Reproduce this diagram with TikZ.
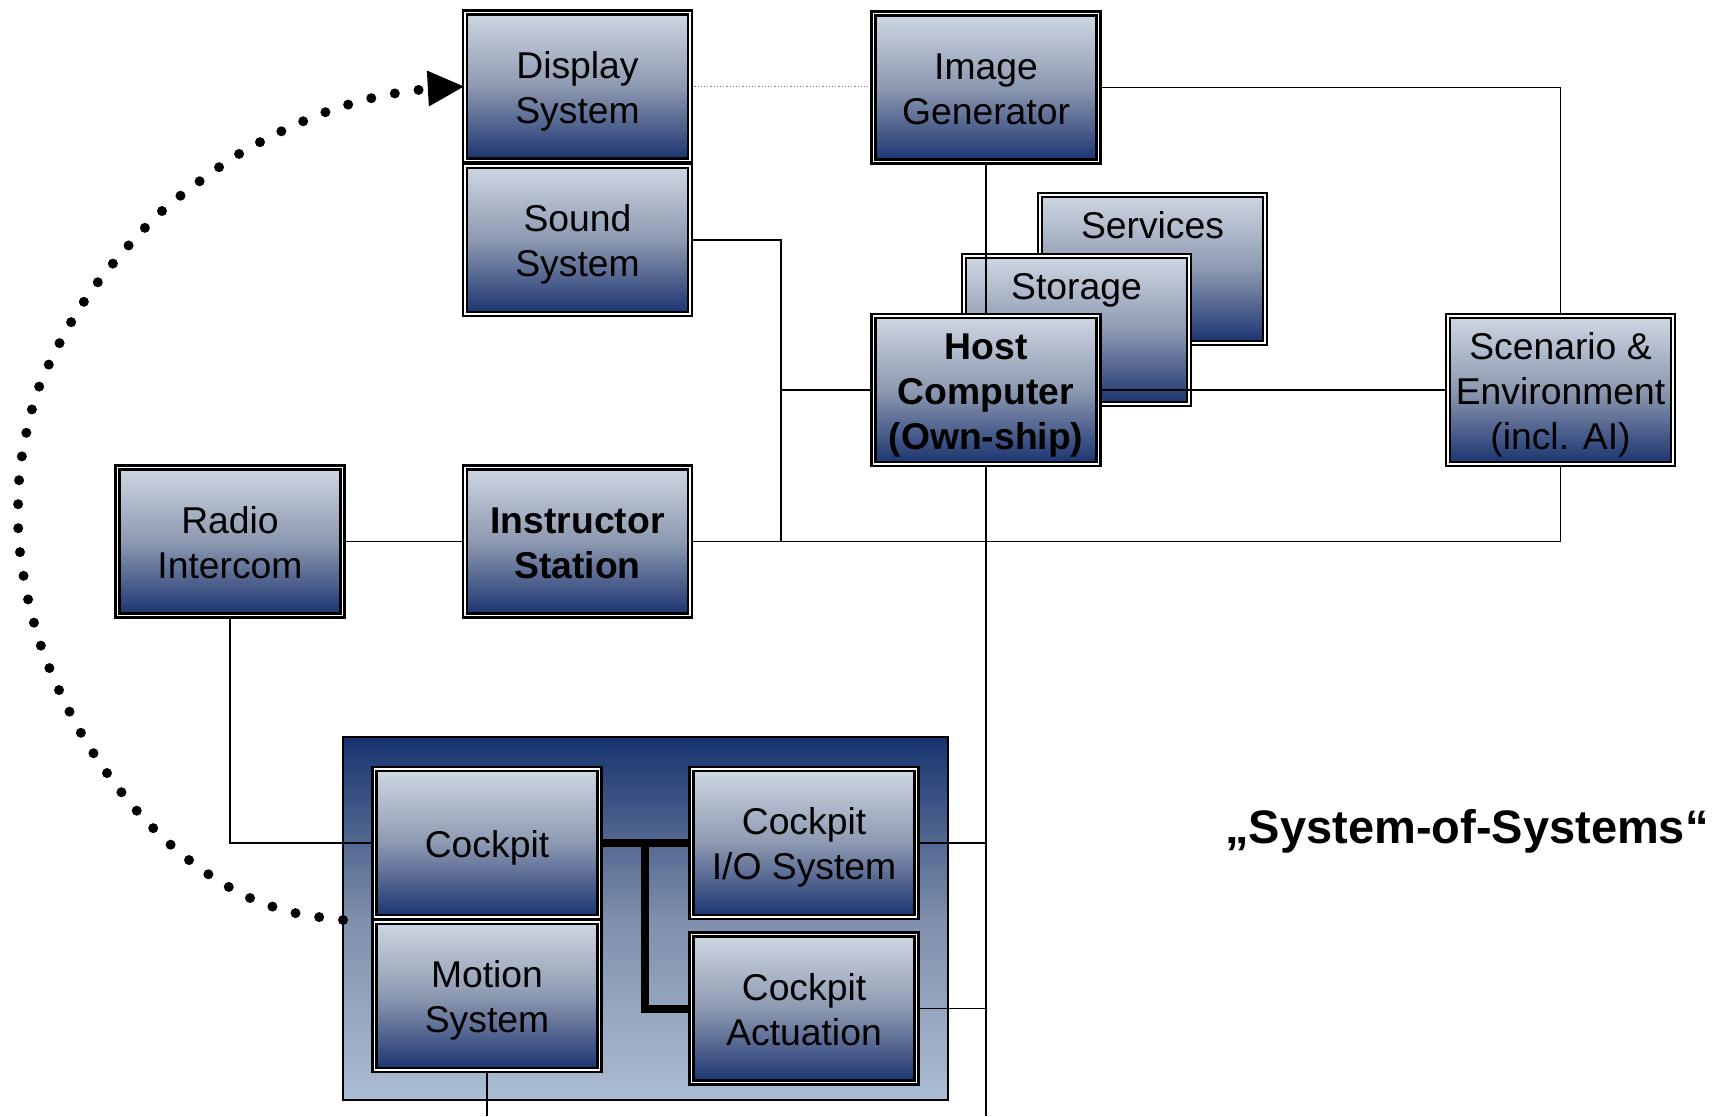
\documentclass[tikz,border=0pt]{standalone}
\usepackage{fontspec}
\setmainfont{Liberation Sans}
\usetikzlibrary{arrows.meta}

\definecolor{boxtop}{HTML}{CFD7E2}
\definecolor{boxmid}{HTML}{8D99B1}
\definecolor{boxbot}{HTML}{1A3370}
\definecolor{frametop}{HTML}{17336F}
\definecolor{framemid}{HTML}{7F8FAC}
\definecolor{framebot}{HTML}{ABBDD2}

\pgfdeclarelayer{back}
\pgfdeclarelayer{wires}
\pgfsetlayers{back,wires,main}

\tikzset{
  sysbox/.style={draw=black, line width=2.4pt, double=white, double distance=1.6pt,
    top color=boxtop, bottom color=boxbot, middle color=boxmid,
    minimum width=225pt, minimum height=148pt, inner sep=0pt},
  plain/.style={inner sep=0pt, align=center, font=\fontsize{37.3}{45}\selectfont},
  strong/.style={plain, font=\fontsize{37.3}{45}\selectfont\bfseries},
  frame/.style={draw=black, line width=1.8pt, top color=frametop, bottom color=framebot,
    middle color=framemid, minimum width=605pt, minimum height=363pt, inner sep=0pt},
  wire/.style={draw=black, line width=1.8pt},
  faint/.style={draw=gray, line width=1.2pt, dotted},
  bus/.style={draw=black, line width=8pt},
  loop/.style={draw=black, line width=10pt, line cap=round, dash pattern=on 0pt off 24pt},
}

% box with its caption; struts keep every caption on the same baseline grid
\newcommand\subsys[4]{%
  \node[sysbox] (#1) at (#2) {};
  \node[#3] (#1text) at ([yshift=-5pt]#1.center) {\strut#4\strut};}

\begin{document}
\begin{tikzpicture}[x=1pt, y=-1pt]
\useasboundingbox (0,0) rectangle (1715,1116);

\begin{pgfonlayer}{back}
  % simulator housing with its sub-systems
  \node[frame] (housing) at (645.5,918.5) {};
  % back-end computers stacked behind the host
  \node[sysbox] (serv) at (1152.5,269) {};
  \node[plain] (servtext) at (1152.5,225) {Services};
  \node[sysbox] (stor) at (1076.5,330) {};
  \node[plain] (stortext) at (1076.5,290) {Storage};
\end{pgfonlayer}

% sub-system boxes
\subsys{disp}{577.5,86.5}{plain}{Display\\System}
\subsys{snd}{577.5,240}{plain}{Sound\\System}
\subsys{img}{986,87.5}{plain}{Image\\Generator}
\subsys{host}{986,390}{strong}{Host\\Computer\\(Own-ship)}
\subsys{scen}{1560.5,390}{plain}{Scenario \&\\Environment\\(incl. AI)}
\subsys{radio}{230,541.5}{plain}{Radio\\Intercom}
\subsys{instr}{577.5,541.5}{strong}{Instructor\\Station}
\subsys{cockpit}{487,843}{plain}{Cockpit}
\subsys{motion}{487,996}{plain}{Motion\\System}
\subsys{cio}{804,843}{plain}{Cockpit\\I/O System}
\subsys{cact}{804,1008.5}{plain}{Cockpit\\Actuation}

% junction points of the network
\coordinate (sj) at (781,541.5);
\coordinate (hostdrop) at (986,1116);
\coordinate (tj) at (645,843);

\begin{pgfonlayer}{wires}
  \draw[faint] (disp.east) -- (disp.east -| img.west);
  \draw[wire] (img.east) -| (scen.north);
  \draw[wire] (img.south) -- (host.north);
  \draw[wire] (host.south) -- (hostdrop);
  \draw[wire] (snd.east) -| (sj);
  \draw[wire] (host.west) -- (host.west -| sj);
  \draw[wire] (instr.east) -| (scen.south);
  \draw[wire] (host.east) -- (scen.west);
  \draw[wire] (radio.east) -- (instr.west);
  \draw[wire] (radio.south) |- (cockpit.west);
  \draw[wire] (cio.east) -- (cio.east -| hostdrop);
  \draw[wire] (cact.east) -- (cact.east -| hostdrop);
  \draw[wire] (motion.south) -- (motion.south |- hostdrop);
  \draw[bus] (cockpit.east) -- (cio.west);
  \draw[bus] (tj) |- (cact.west);
\end{pgfonlayer}

% feedback loop from the cockpit back to the display
\coordinate (loopstart) at (343,920);
\draw[loop, -{Triangle[length=36pt, width=36pt, line width=0pt]}]
  plot[smooth, tension=0.55] coordinates {
    (loopstart) (295,913) (250,898) (208,874) (171,845) (137,811) (107,773)
    (81,733) (59,690) (41,646) (28,599) (20,552) (18,515) (20,470) (28,425)
    (39,387) (56,350) (76,314) (98,282) (129,245) (162,211) (200,181)
    (239,154) (282,131) (326,112) (372,98) (418,90) (disp.west)};

\node[font=\fontsize{47}{55}\selectfont\bfseries] (title) at (1467,831) {„System-of-Systems“};
\end{tikzpicture}
\end{document}
